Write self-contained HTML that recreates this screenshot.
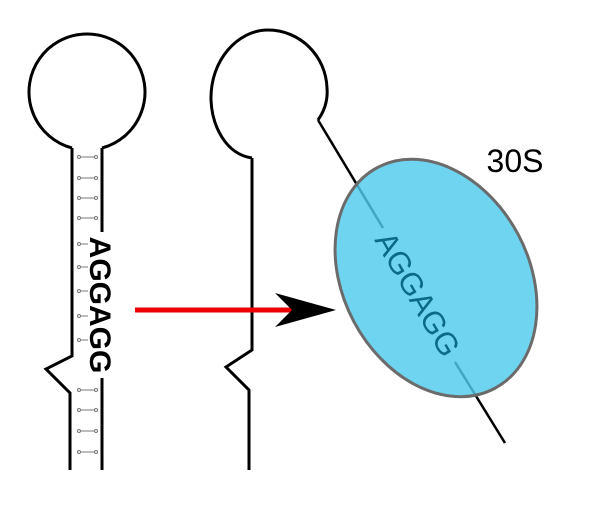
<!DOCTYPE html>
<html><head><style>html,body{margin:0;padding:0;background:#fff;}svg{display:block}</style></head>
<body>
<svg width="600" height="508" viewBox="0 0 600 508" xmlns="http://www.w3.org/2000/svg">
<defs>
  <g id="t" stroke="#777" stroke-width="1" fill="#fff"><line x1="79" y1="0" x2="96" y2="0"/><circle cx="79" cy="0" r="1.5"/><circle cx="96" cy="0" r="1.5"/></g>
  <g id="s" stroke="#777" stroke-width="1" fill="#fff"><line x1="79" y1="0" x2="88" y2="0"/><circle cx="79" cy="0" r="1.5"/></g>
</defs>
<g fill="none" stroke="#000" stroke-width="3">
  <path d="M72,148 A58,58 0 1 1 102,148"/>
  <path d="M72,148 L72,356 L46,369 L70,393 L70,470"/>
  <path d="M102,148 L102,232 M102,378 L102,470"/>
  <path d="M252,158 L252,350 L226,367 L249,390 L249,470"/>
  <path d="M252,158 C225,154 212,125 211,100 C210,60 238,30 268,30 C300,30 326,56 327,88 C328,100 325,110 318,120"/>
  <path d="M318,120 L383,228 M455,362 L505,443" stroke-width="2.5"/>
</g>
<use href="#t" y="157"/><use href="#t" y="178"/><use href="#t" y="198"/><use href="#t" y="218"/>
<use href="#s" y="244"/><use href="#s" y="267"/><use href="#s" y="291"/><use href="#s" y="316"/><use href="#s" y="340"/>
<use href="#t" y="390"/><use href="#t" y="410"/><use href="#t" y="431"/><use href="#t" y="452"/>
<text x="0" y="0" transform="translate(90,305) rotate(90)" text-anchor="middle" font-family="Liberation Sans, sans-serif" font-weight="bold" font-size="30" fill="#000">AGGAGG</text>
<line x1="135" y1="310" x2="292" y2="310" stroke="#e00" stroke-width="5"/>
<path d="M336,310 L275,293 L292,310 L275,327 Z" fill="#000"/>
<ellipse cx="436" cy="278" rx="93" ry="125" transform="rotate(-28 436 278)" fill="#4ecbec" fill-opacity="0.82" stroke="#6b6b6b" stroke-width="3"/>
<text x="0" y="0" transform="translate(418,294) rotate(60)" text-anchor="middle" font-family="Liberation Sans, sans-serif" font-size="31" fill="#0b6a86" dy="11">AGGAGG</text>
<text x="515" y="172" text-anchor="middle" font-family="Liberation Sans, sans-serif" font-size="32" fill="#000">30S</text>
</svg>
</body></html>
